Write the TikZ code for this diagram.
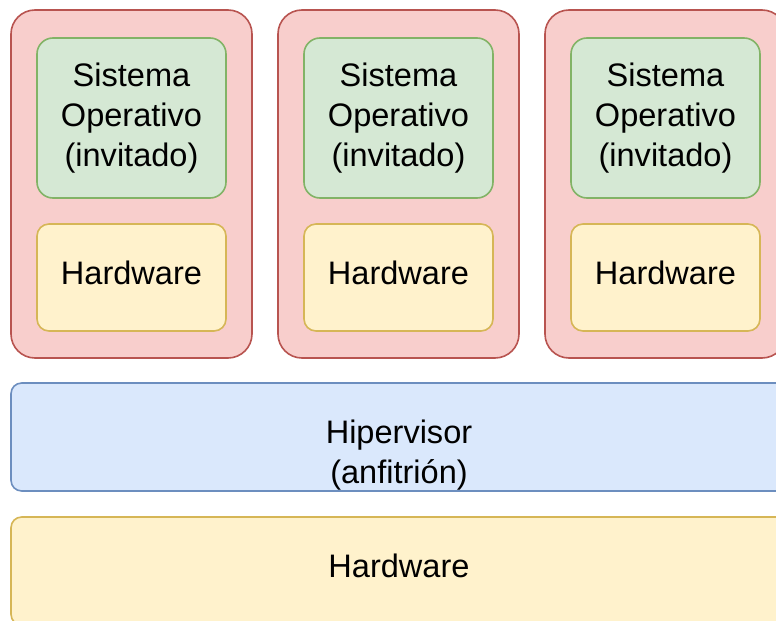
\documentclass[tikz,border=0pt]{standalone}
\usepackage{fontspec}
\setmainfont{Liberation Sans}

\definecolor{vmfill}{HTML}{F8CECC}
\definecolor{vmline}{HTML}{B85450}
\definecolor{sofill}{HTML}{D5E8D4}
\definecolor{soline}{HTML}{82B366}
\definecolor{hwfill}{HTML}{FFF2CC}
\definecolor{hwline}{HTML}{D6B656}
\definecolor{hipfill}{HTML}{DAE8FC}
\definecolor{hipline}{HTML}{6C8EBF}

\begin{document}
\begin{tikzpicture}[x=0.75pt,y=-0.75pt,
		caja/.style={draw, rounded corners=#1, line width=1.2pt, inner sep=0pt, align=center,
			font=\fontsize{24.4}{30}\selectfont},
		vm/.style={caja=18pt, fill=vmfill, draw=vmline, minimum width=180.75pt, minimum height=261pt},
		so/.style={caja=12pt, fill=sofill, draw=soline, minimum width=141.75pt, minimum height=120pt},
		hwvm/.style={caja=9pt, fill=hwfill, draw=hwline, minimum width=141.75pt, minimum height=80.25pt, text depth=7.5pt},
		capa/.style={caja=8pt, minimum width=582pt, minimum height=81pt},
		texto/.style={align=center, font=\fontsize{24.4}{30}\selectfont}]
	\useasboundingbox (0,0) rectangle (776,621);
	\clip (0,0) rectangle (776,621);
	% maquinas virtuales
	\foreach \n in {1,2,3} {
		\node[vm] (vm\n) at (131.5+267*\n-267,184) {};
		\node[so] (so\n) at (131.5+267*\n-267,118) {Sistema\\Operativo\\(invitado)};
		\node[hwvm] (hw\n) at (131.5+267*\n-267,277.5) {Hardware};
	}
	% capas de abajo
	\node[capa, fill=hipfill, draw=hipline] (hip) at (399,437) {};
	\node[texto] (hiptxt) at (399,455) {Hipervisor\\(anfitrión)};
	\node[capa, fill=hwfill, draw=hwline, text depth=7.5pt] (hw) at (399,571) {Hardware};
\end{tikzpicture}
\end{document}
